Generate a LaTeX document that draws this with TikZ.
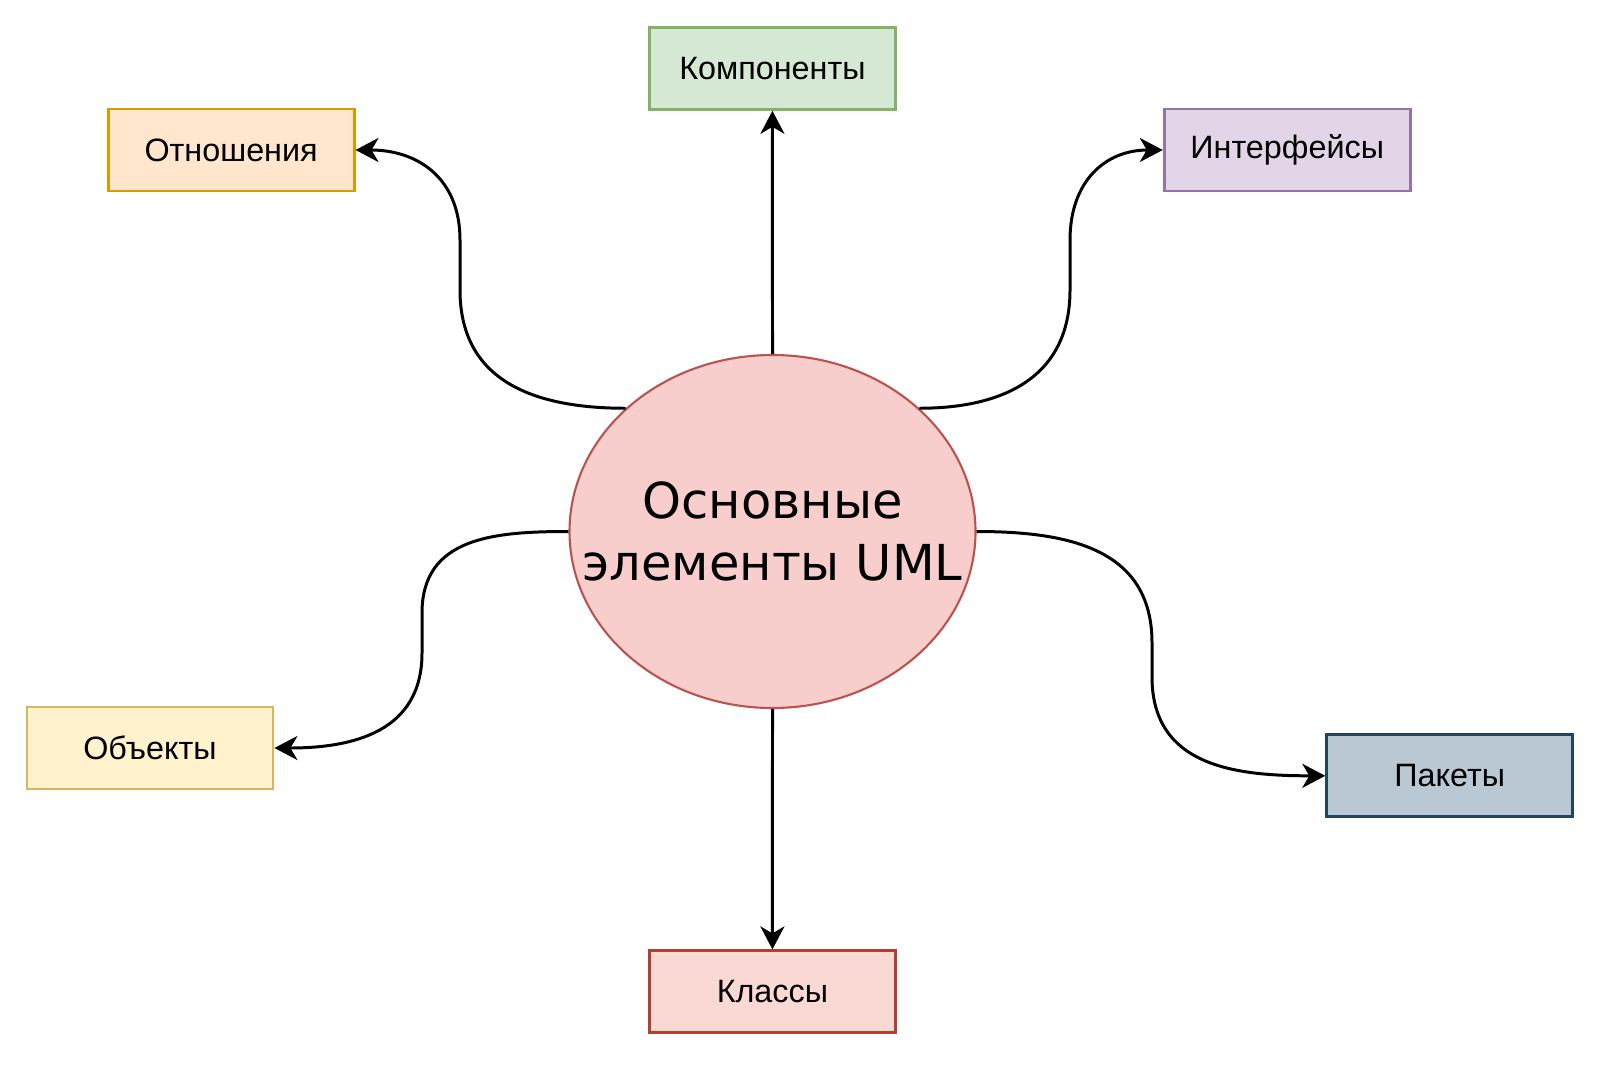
\documentclass[tikz,border=0pt]{standalone}
\usepackage{fontspec}
\setmainfont{Liberation Sans}
\newfontfamily\dejavu{DejaVu Sans}
\usepackage{tikz}
\usetikzlibrary{arrows.meta,shapes.geometric}
\definecolor{UmlFill}{HTML}{F8CECC}
\definecolor{UmlLine}{HTML}{B85450}
\definecolor{GreenFill}{HTML}{D5E8D4}
\definecolor{GreenLine}{HTML}{82B366}
\definecolor{OrangeFill}{HTML}{FFE6CC}
\definecolor{OrangeLine}{HTML}{D79B00}
\definecolor{PurpleFill}{HTML}{E1D5E7}
\definecolor{PurpleLine}{HTML}{9673A6}
\definecolor{YellowFill}{HTML}{FFF2CC}
\definecolor{YellowLine}{HTML}{D6B656}
\definecolor{SteelFill}{HTML}{BAC8D3}
\definecolor{SteelLine}{HTML}{23445D}
\definecolor{RedFill}{HTML}{FAD9D5}
\definecolor{RedLine}{HTML}{AE4132}
\tikzset{
  elbox/.style={
    draw,line width=0.8pt,
    minimum width=2.46cm,minimum height=0.82cm,inner sep=0pt,
    font=\fontsize{9.2}{11}\selectfont,align=center
  },
  link/.style={
    line width=0.85pt,looseness=1.15,
    -{Stealth[length=0.23cm,width=0.24cm,inset=0.07cm]}
  },
}

\begin{document}
\begin{tikzpicture}
  \useasboundingbox (0,0) rectangle (16,10.64);
  \node[ellipse,draw=UmlLine,fill=UmlFill,line width=0.6pt,
        minimum width=4.06cm,minimum height=3.53cm,inner sep=0pt]
        (uml) at (7.725, 5.325) {};
  \node[align=center,font=\dejavu\fontsize{14.1}{17.4}\selectfont]
        (umltext) at (uml.center) {Основные\\элементы UML};
  \node[elbox,draw=GreenLine,fill=GreenFill] (komp) at (7.724, 9.956) {Компоненты};
  \node[elbox,draw=OrangeLine,fill=OrangeFill] (otn) at (2.311, 9.14) {Отношения};
  \node[elbox,draw=PurpleLine,fill=PurpleFill] (intf) at (12.872, 9.14) {Интерфейсы};
  \node[elbox,draw=YellowLine,fill=YellowFill] (obj) at (1.50, 3.16) {Объекты};
  \node[elbox,draw=SteelLine,fill=SteelFill] (pak) at (14.497, 2.882) {Пакеты};
  \node[elbox,draw=RedLine,fill=RedFill] (klass) at (7.724, 0.722) {Классы};
  % straight links
  \draw[link] (uml.north) -- (komp.south);
  \draw[link] (uml.south) -- (klass.north);
  % curved links
  \draw[link] (uml.140) to[out=180,in=-90] (4.60, 7.74) -- (4.60, 8.24) to[out=90,in=0] (otn.east);
  \draw[link] (uml.40) to[out=0,in=-90] (10.70, 7.74) -- (10.70, 8.24) to[out=90,in=180] (intf.west);
  \draw[link] (uml.west) to[out=180,in=90] (4.22, 4.51) -- (4.22, 4.11) to[out=-90,in=0] (obj.east);
  \draw[link] (uml.east) to[out=0,in=90] (11.52, 4.21) -- (11.52, 3.87) to[out=-90,in=180] (pak.west);
\end{tikzpicture}
\end{document}
